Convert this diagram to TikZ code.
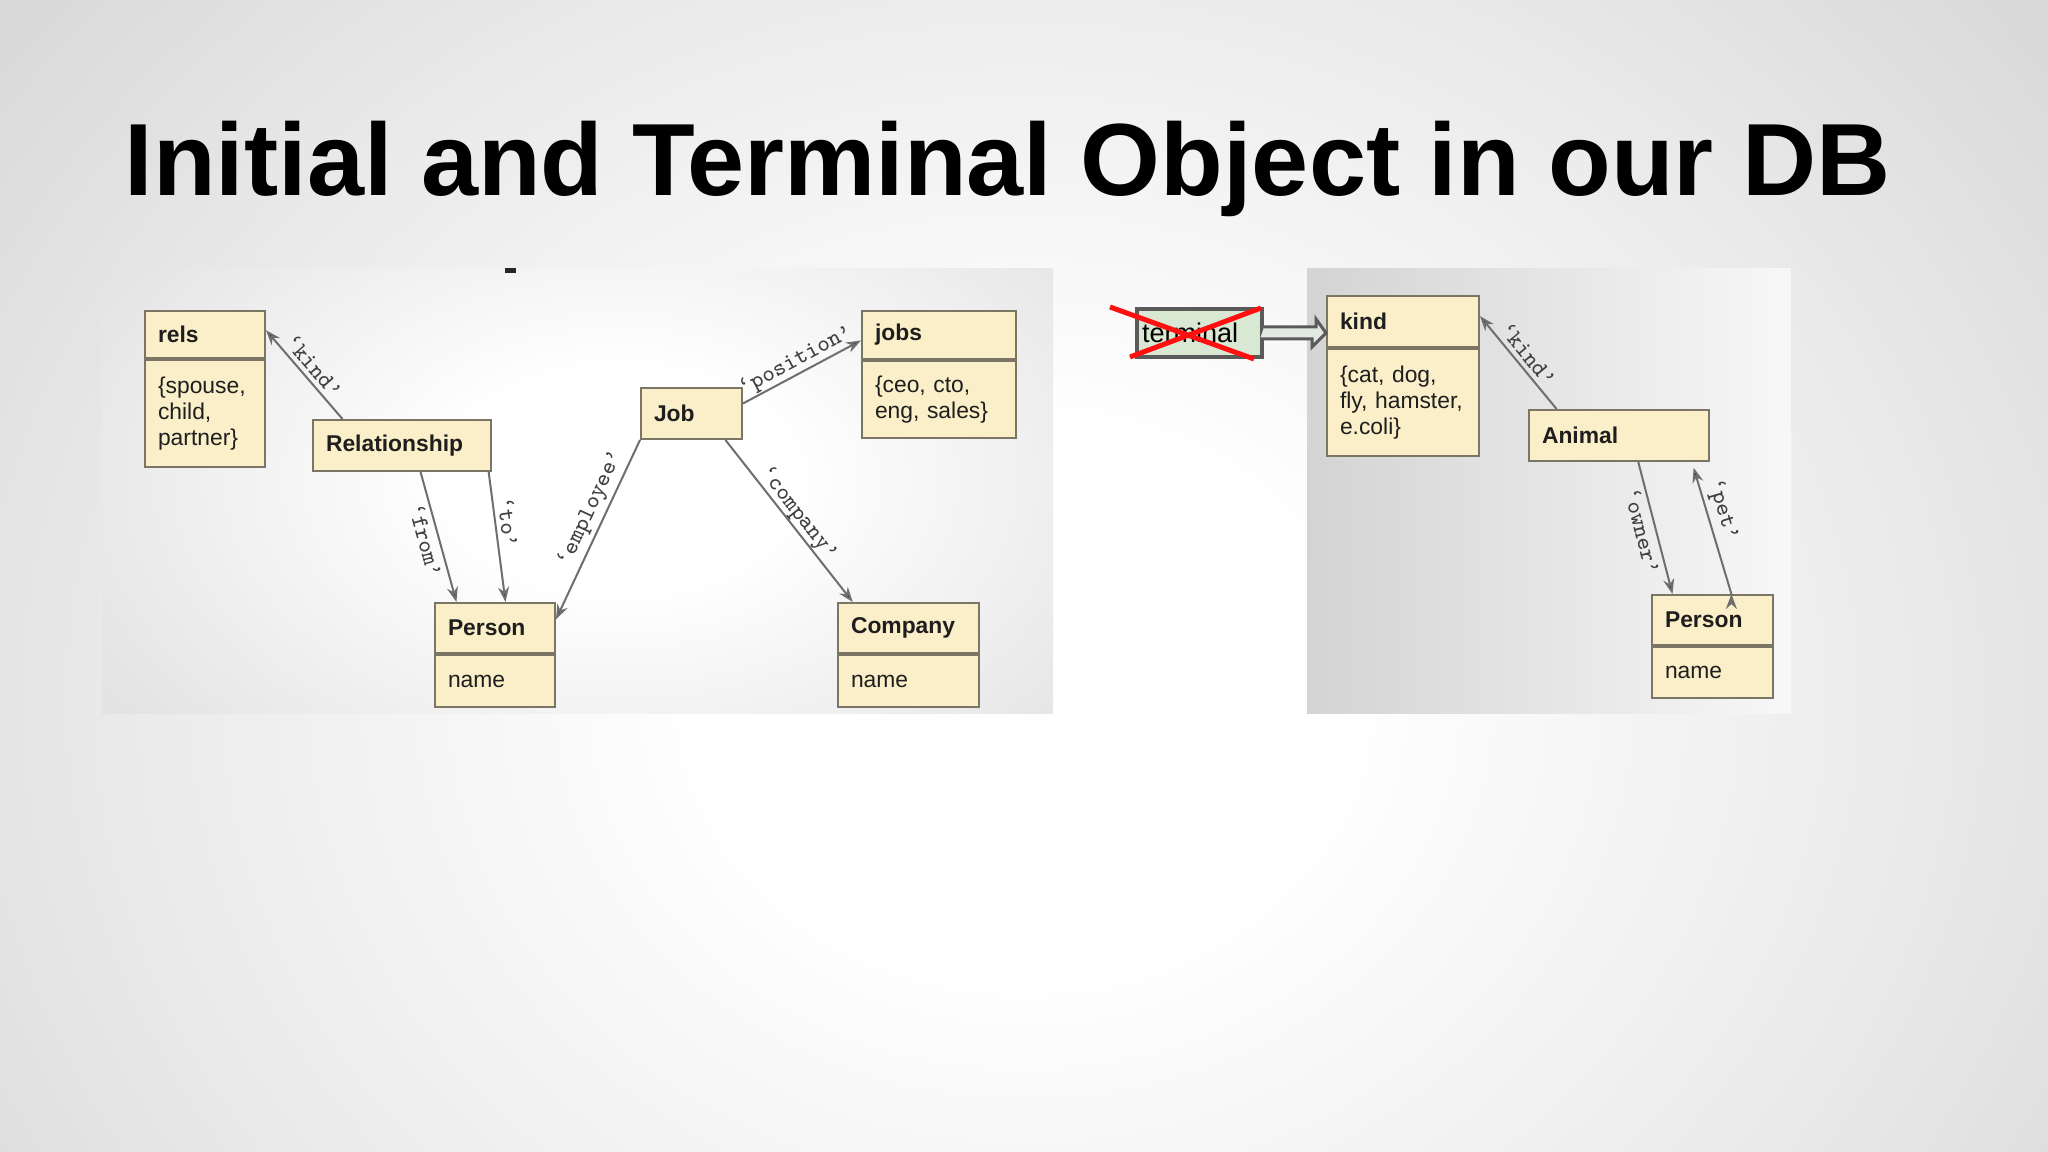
\documentclass[tikz,border=0pt]{standalone}
\usepackage{fontspec}
\setmainfont{Liberation Sans}
\usetikzlibrary{arrows.meta,positioning}

\definecolor{boxfill}{HTML}{FAEFC8}
\definecolor{boxline}{HTML}{7B7565}
\definecolor{boxtext}{HTML}{1E1E1E}
\definecolor{linkgray}{HTML}{6E6E6E}
\definecolor{lblgray}{HTML}{404040}
\definecolor{termfill}{HTML}{D8E8D3}
\definecolor{termline}{HTML}{5A5A5A}
\definecolor{blockfill}{HTML}{E2E8E2}
\definecolor{crossred}{HTML}{FF1010}

\newcommand{\clsfont}{\fontsize{6.5}{7.4}\selectfont}
\newcommand{\edgefont}{\fontsize{6.7}{7}\selectfont\ttfamily}

\pgfdeclareradialshading{slideglow}{\pgfpoint{0bp}{0bp}}{color(0bp)=(white); color(6bp)=(white); color(17bp)=(black!8); color(25bp)=(black!15); color(36bp)=(black!19); color(50bp)=(black!19)}
\pgfdeclareradialshading{panelglow}{\pgfpoint{0bp}{0bp}}{color(0bp)=(white); color(6bp)=(white); color(22bp)=(black!11); color(36bp)=(black!17); color(50bp)=(black!17)}

\begin{document}
\begin{tikzpicture}[x=0.1mm, y=-0.1mm,
    cls/.style={draw=boxline, fill=boxfill, line width=0.2mm, text=boxtext,
      font=\clsfont\bfseries, align=left, inner xsep=1.3mm, inner ysep=0.5mm,
      anchor=north west, text width=#1},
    attr/.style={draw=boxline, fill=boxfill, line width=0.2mm, text=boxtext,
      font=\clsfont, align=left, inner xsep=1.3mm, text width=#1},
    link/.style={draw=linkgray, line width=0.2mm, -{Stealth[length=1.5mm, width=1.1mm]}},
    lbl/.style={font=\edgefont, text=lblgray, sloped, inner sep=0.4mm}]

  % --- Background ---
  \useasboundingbox (0,0) rectangle (2048,1152);
  \begin{scope}
    \clip (0,0) rectangle (2048,1152);
    \shade[shading=slideglow] (-276,-400) rectangle (2324,1800);
  \end{scope}
  \begin{scope}
    \clip (102,269) rectangle (1053,714);
    \shade[shading=panelglow] (-80,30) rectangle (1320,930);
  \end{scope}
  \shade[left color=black!17, right color=black!3] (1307,269) rectangle (1791,714);
  \fill[black!85] (505,268) rectangle (516,273);

  % --- Title ---
  \node[anchor=base west, inner sep=0pt, font=\fontsize{29.2}{35}\selectfont\bfseries] (title) at (124,196)
    {Initial and Terminal Object in our DB};

  % --- Classes, left ---
  \node[cls=9.4mm, minimum height=4.7mm] (relsT) at (144,310) {rels};
  \node[attr=9.4mm, minimum height=10.7mm, below=0pt of relsT] (relsA) {\{spouse,\\child,\\partner\}};
  \node[cls=15.2mm, minimum height=5.1mm] (relT) at (312,419) {Relationship};
  \node[cls=9.4mm, minimum height=5mm] (persT) at (434,602) {Person};
  \node[attr=9.4mm, minimum height=5.2mm, below=0pt of persT] (persA) {name};
  \node[cls=7.5mm, minimum height=5.1mm] (jobT) at (640,387) {Job};
  \node[cls=12.8mm, minimum height=4.8mm] (jobsT) at (861,310) {jobs};
  \node[attr=12.8mm, minimum height=7.7mm, below=0pt of jobsT] (jobsA) {\{ceo, cto,\\eng, sales\}};
  \node[cls=11.5mm, minimum height=5mm] (compT) at (837,602) {Company};
  \node[attr=11.5mm, minimum height=5.2mm, below=0pt of compT] (compA) {name};

  % --- Classes, right ---
  \node[cls=12.6mm, minimum height=5.1mm] (kindT) at (1326,295) {kind};
  \node[attr=12.6mm, minimum height=10.7mm, below=0pt of kindT] (kindA) {\{cat, dog,\\fly, hamster,\\e.coli\}};
  \node[cls=15.4mm, minimum height=5.1mm] (animT) at (1528,409) {Animal};
  \node[cls=9.5mm, minimum height=5mm] (pers2T) at (1651,594) {Person};
  \node[attr=9.5mm, minimum height=5.1mm, below=0pt of pers2T] (pers2A) {name};

  % --- Links ---
  \path[link]
    (relT.156) edge node[lbl, above] {‘kind’} (relsT.4)
    (relT.305) edge node[lbl, below] {‘from’} (persT.146)
    (relT.343) edge node[lbl, above, pos=.4] {‘to’} (persT.68)
    (jobT.south west) edge node[lbl, above, pos=.42] {‘employee’} (persT.8)
    (jobT.11) edge node[lbl, above, inner sep=0.1mm] {‘position’} (jobsT.184)
    (jobT.322) edge node[lbl, above, inner sep=0pt] {‘company’} (compT.155)

    (animT.157) edge node[lbl, above] {‘kind’} (kindT.4)
    (animT.306) edge node[lbl, below] {‘owner’} (pers2T.147)
    (pers2T.54) edge[shorten >=0.6mm] node[lbl, above, pos=.6] {‘pet’} (animT.340);

  % --- Crossed out terminal ---
  \node[draw=termline, fill=termfill, line width=0.4mm, anchor=north west,
    minimum width=12.5mm, minimum height=4.8mm, inner xsep=0.5mm, text width=11.5mm,
    align=left, font=\fontsize{7.7}{8}\selectfont] (termN) at (1135,307) {terminal};
  \filldraw[draw=termline, fill=blockfill, line width=0.3mm, line join=miter]
    ([yshift=0.6mm]termN.east) -- ++(52,0) -- ++(0,-8) -- (kindT.west |- termN.east)
    -- ++(-14,14) -- ++(0,-8) -- ++(-52,0);
  \draw[crossred, line width=0.5mm]
    ([shift={(-25,0)}]termN.north west) -- ([shift={(-10,0)}]termN.south east)
    ([shift={(-5,-2)}]termN.south west) -- ([shift={(-3,1)}]termN.north east);
\end{tikzpicture}
\end{document}
